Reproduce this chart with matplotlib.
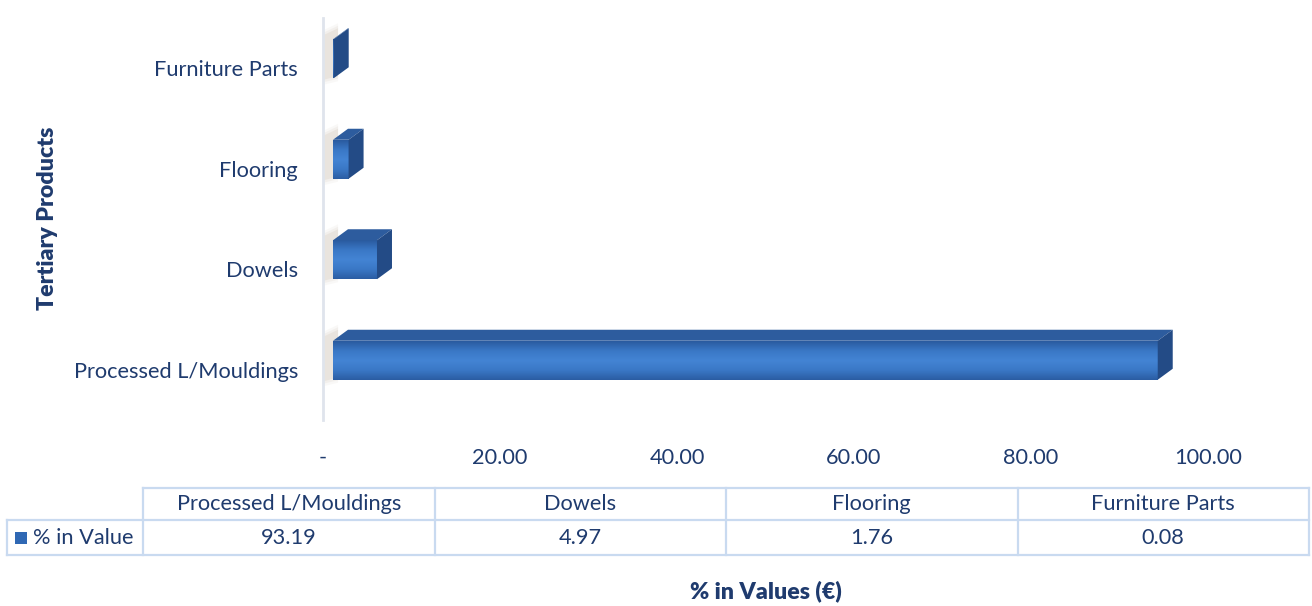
import numpy as np
import matplotlib
matplotlib.use("Agg")
import matplotlib.pyplot as plt
from matplotlib.patches import Polygon, Rectangle
from matplotlib.transforms import offset_copy
from matplotlib.colors import LinearSegmentedColormap

# ---- data ----
categories = ["Processed L/Mouldings", "Dowels", "Flooring", "Furniture Parts"]
values = [93.19, 4.97, 1.76, 0.08]
series_name = "% in Value"
xticks = [0, 20, 40, 60, 80, 100]
x_label = "% in Values (\u20ac)"
y_label = "Tertiary Products"

W, H = 1312, 606
DPI = 100
TXT = "#1f3b6e"
FONT = "Lato"
FS = 15.7

plt.rcParams["font.family"] = [FONT, "DejaVu Sans"]

fig = plt.figure(figsize=(W / DPI, H / DPI), dpi=DPI)


def fx(px):
    return px / W


def fy(py):
    return 1 - py / H


# main axes: x from 323 to 1208 px, y from 18 to 420 px
ax = fig.add_axes([fx(323), fy(420), fx(1208) - fx(323), (420 - 18) / H])
ax.set_xlim(0, 100)
ax.set_ylim(-0.5, len(categories) - 0.5)
for s in ["top", "right", "bottom"]:
    ax.spines[s].set_visible(False)
ax.spines["left"].set_color("#dfe4ec")
ax.spines["left"].set_linewidth(2.0)
ax.set_yticks(range(len(categories)))
ax.set_yticklabels(categories, fontsize=FS, color=TXT)
ax.set_xticks(xticks)
ax.set_xticklabels(["-" if t == 0 else f"{t:.2f}" for t in xticks], fontsize=FS, color=TXT)
ax.tick_params(axis="y", length=0, pad=18)
ax.tick_params(axis="x", length=0, pad=20)

fig.text(fx(48), fy(218), y_label, rotation=90, ha="center", va="center",
         fontsize=FS + 1, fontweight="heavy", color=TXT)
fig.text(fx(766), fy(591), x_label, ha="center", va="center",
         fontsize=FS + 1, fontweight="heavy", color=TXT)

# 3D-ish bars
px_x = 885 / 100.0   # pixels per x unit
px_y = 402 / 4.0     # pixels per y unit
front_shift = 10      # px right of the wall
depth_dx = 15 / px_x  # data units
depth_dy = 11 / px_y
h_front = 39 / px_y
below = 10 / px_y

tr = offset_copy(ax.transData, fig=fig, x=front_shift, y=0, units="dots")

front_cmap = LinearSegmentedColormap.from_list(
    "front", ["#2a5ba0", "#3a78c6", "#4384d4", "#3a78c6", "#2b5da3"])

for i, v in enumerate(values):
    y0 = i - below
    y1 = y0 + h_front
    # soft shadow on the wall
    for k, a in enumerate([0.05, 0.07, 0.10]):
        sh = Polygon([(-0.2, y0 - 0.07 + k * 0.025), (1.7, y0 - 0.03 + k * 0.025),
                      (1.7, y1 + depth_dy + 0.05 - k * 0.025), (-0.2, y1 + 0.08 - k * 0.025)],
                     closed=True, facecolor="#9a8464", edgecolor="none", alpha=a,
                     transform=ax.transData, zorder=1)
        ax.add_patch(sh)
    # front face with gradient
    clip = Rectangle((0, y0), v, h_front, transform=tr, facecolor="none", edgecolor="none")
    ax.add_patch(clip)
    img = ax.imshow(np.linspace(0, 1, 64).reshape(-1, 1), cmap=front_cmap, aspect="auto",
                    extent=(0, v, y0, y1), transform=tr, zorder=3, origin="upper",
                    interpolation="bilinear")
    img.set_clip_path(clip)
    # top face
    top = Polygon([(0, y1), (v, y1), (v + depth_dx, y1 + depth_dy), (depth_dx, y1 + depth_dy)],
                  closed=True, facecolor="#2d5c9e", edgecolor="none", transform=tr, zorder=4)
    ax.add_patch(top)
    # side face
    side = Polygon([(v, y0), (v + depth_dx, y0 + depth_dy), (v + depth_dx, y1 + depth_dy), (v, y1)],
                   closed=True, facecolor="#234b86", edgecolor="none", transform=tr, zorder=4)
    ax.add_patch(side)

ax.set_xlim(0, 100)
ax.set_ylim(-0.5, len(categories) - 0.5)

# ---- data table ----
tab = fig.add_axes([0, 0, 1, 1], facecolor="none")
tab.set_xlim(0, W)
tab.set_ylim(H, 0)
tab.axis("off")
BORDER = "#c9daf0"
LW = 1.6
col_left = 143
col_right = 1309
leg_left = 7
r0, r1, r2 = 488, 520, 555
n = len(categories)
cw = (col_right - col_left) / n
tab.plot([col_left, col_right], [r0, r0], color=BORDER, lw=LW)
tab.plot([leg_left, col_right], [r1, r1], color=BORDER, lw=LW)
tab.plot([leg_left, col_right], [r2, r2], color=BORDER, lw=LW)
tab.plot([leg_left, leg_left], [r1, r2], color=BORDER, lw=LW)
for j in range(n + 1):
    xx = col_left + j * cw
    tab.plot([xx, xx], [r0, r2], color=BORDER, lw=LW)
for j, (c, v) in enumerate(zip(categories, values)):
    cx = col_left + (j + 0.5) * cw
    tab.text(cx, (r0 + r1) / 2, c, ha="center", va="center", fontsize=FS, color=TXT)
    tab.text(cx, (r1 + r2) / 2, f"{v:.2f}", ha="center", va="center", fontsize=FS, color=TXT)
# legend key
tab.add_patch(Rectangle((15, 532), 12, 12, facecolor="#2f68b4", edgecolor="none"))
tab.text(33, (r1 + r2) / 2, series_name, ha="left", va="center", fontsize=FS, color=TXT)

fig.savefig("out.png", dpi=DPI)
